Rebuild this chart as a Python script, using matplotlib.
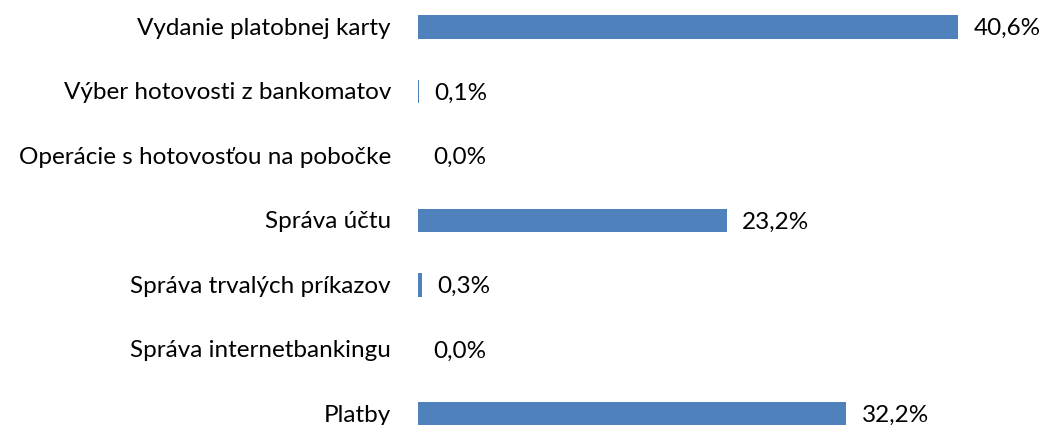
import numpy as np
import matplotlib
matplotlib.use('Agg')
import matplotlib.pyplot as plt

plt.rcParams['font.family'] = ['Lato', 'DejaVu Sans']

categories = ['Vydanie platobnej karty', 'Výber hotovosti z bankomatov',
              'Operácie s hotovosťou na pobočke', 'Správa účtu',
              'Správa trvalých príkazov', 'Správa internetbankingu', 'Platby']
values = [40.6, 0.1, 0.0, 23.2, 0.3, 0.0, 32.2]
value_labels = ['40,6%', '0,1%', '0,0%', '23,2%', '0,3%', '0,0%', '32,2%']

fig = plt.figure(figsize=(10.43, 4.25), dpi=100)
ax = fig.add_axes([418 / 1043, 0, 611.8 / 1043, 1])

y = np.arange(len(categories))
ax.barh(y, values, height=0.372, color='#4F81BD')
ax.set_xlim(0, 46)
ax.set_ylim(6.1705, -0.4186)

for yi, v, lab in zip(y, values, value_labels):
    ax.annotate(lab, (v, yi), xytext=(11, -1), textcoords='offset points',
                va='center', ha='left', fontsize=17.5, color='black')
for yi, cat in zip(y, categories):
    ax.annotate(cat, (0, yi), xytext=(-19.5, -1), textcoords='offset points',
                va='center', ha='right', fontsize=17.5, color='black')

ax.axis('off')
fig.savefig('out.png', dpi=100)
